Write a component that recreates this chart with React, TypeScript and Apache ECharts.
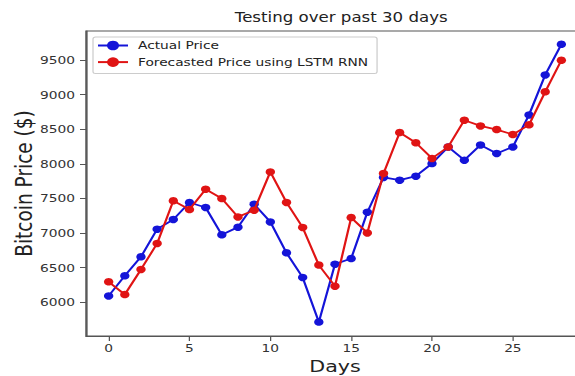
import React, { useEffect, useRef } from "react";
import * as echarts from "echarts";

const days = [0,1,2,3,4,5,6,7,8,9,10,11,12,13,14,15,16,17,18,19,20,21,22,23,24,25,26,27,28];
const actualPrice = [6090,6380,6655,7055,7195,7440,7368,6973,7084,7416,7160,6712,6357,5711,6549,6630,7300,7802,7763,7821,8004,8244,8052,8273,8149,8244,8707,9285,9728];
const forecastPrice = [6293,6110,6472,6848,7464,7339,7633,7498,7232,7329,7883,7441,7080,6535,6231,7222,7001,7860,8452,8304,8078,8244,8630,8548,8495,8423,8563,9040,9497];
const xTicks = [0,5,10,15,20,25];
const yTicks = [6000,6500,7000,7500,8000,8500,9000,9500];

const FONT = "DejaVu Sans";
const STRETCH = 1.25;

export default function App() {
  const ref = useRef<HTMLDivElement>(null);
  useEffect(() => {
    if (!ref.current) return;
    const chart = echarts.init(ref.current, undefined, { renderer: "svg" });
    const blue = "#1414d8";
    const red = "#e01414";
    const axisGray = "#555";
    chart.setOption({
      animation: false,
      backgroundColor: "#ffffff",
      textStyle: { fontFamily: FONT },
      title: {
        text: "Testing over past 30 days",
        left: 268,
        textAlign: "center",
        top: 6,
        textStyle: { fontFamily: FONT, fontSize: 13.3, fontWeight: "normal", color: "#222" },
      },
      legend: {
        orient: "vertical",
        left: 74.4,
        top: 37,
        itemWidth: 24,
        itemHeight: 12,
        itemGap: 5.6,
        padding: [3, 7, 6, 3],
        borderColor: "#cccccc",
        borderWidth: 1,
        borderRadius: 2,
        backgroundColor: "#ffffff",
        textStyle: { fontFamily: FONT, fontSize: 11, color: "#222", padding: [0, 0, 0, 3] },
        data: [
          { name: "Actual Price", itemStyle: { color: blue } },
          { name: "Forecasted Price using LSTM RNN", itemStyle: { color: red } },
        ],
      },
      grid: {
        left: 68.8,
        top: 31,
        width: 398.4,
        height: 305,
        outerBoundsMode: "none",
        containLabel: false,
        show: true,
        borderColor: axisGray,
        borderWidth: 1.2,
        backgroundColor: "transparent",
      },
      xAxis: {
        type: "value",
        min: -1.4,
        max: 29.4,
        name: "Days",
        nameLocation: "middle",
        nameGap: 22,
        nameMoveOverlap: false,
        nameTextStyle: { fontFamily: FONT, fontSize: 16.5, color: "#222", lineHeight: 17 },
        splitLine: { show: false },
        axisLine: { show: true, onZero: false, lineStyle: { color: axisGray, width: 1.2 } },
        axisTick: { show: true, length: 5, customValues: xTicks, lineStyle: { color: axisGray } },
        axisLabel: {
          customValues: xTicks,
          fontFamily: FONT,
          fontSize: 11,
          color: "#333",
          margin: 7,
          formatter: (v: number) => String(v),
        },
      },
      yAxis: {
        type: "value",
        min: 5510,
        max: 9920,
        name: "Bitcoin Price ($)",
        nameLocation: "middle",
        nameRotate: 90,
        nameGap: 40,
        nameMoveOverlap: false,
        nameTextStyle: { fontFamily: FONT, fontSize: 18.5, color: "#222" },
        splitLine: { show: false },
        axisLine: { show: true, onZero: false, lineStyle: { color: axisGray, width: 1.2 } },
        axisTick: { show: true, length: 4.8, customValues: yTicks, lineStyle: { color: axisGray } },
        axisLabel: {
          customValues: yTicks,
          fontFamily: FONT,
          fontSize: 11,
          color: "#333",
          margin: 8.8,
          formatter: (v: number) => String(v),
        },
      },
      series: [
        {
          name: "Actual Price",
          type: "line",
          data: days.map((d, i) => [d, actualPrice[i]]),
          symbol: "circle",
          symbolSize: 7.5,
          lineStyle: { color: blue, width: 1.8 },
          itemStyle: { color: blue },
          z: 3,
        },
        {
          name: "Forecasted Price using LSTM RNN",
          type: "line",
          data: days.map((d, i) => [d, forecastPrice[i]]),
          symbol: "circle",
          symbolSize: 7.5,
          lineStyle: { color: red, width: 1.8 },
          itemStyle: { color: red },
          z: 4,
        },
      ],
    });
    return () => chart.dispose();
  }, []);
  return (
    <div style={{ position: "fixed", left: 0, top: 0, width: 575, height: 376, overflow: "hidden", background: "#fff" }}>
      <div
        ref={ref}
        style={{
          width: 480,
          height: 376,
          transform: `scaleX(${STRETCH})`,
          transformOrigin: "0 0",
        }}
      />
    </div>
  );
}
